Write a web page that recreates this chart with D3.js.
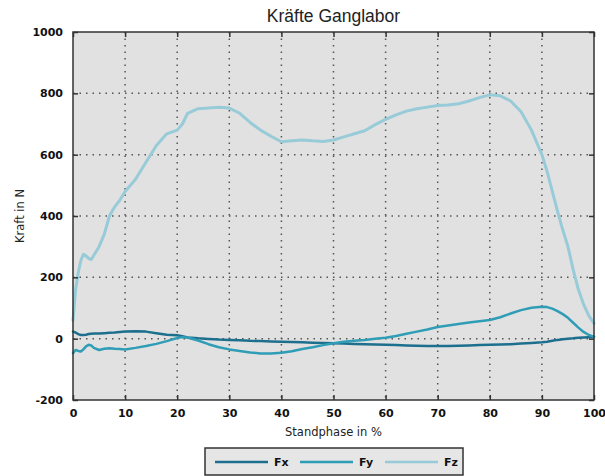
<!DOCTYPE html>
<html>
<head>
<meta charset="utf-8">
<script src="https://cdn.jsdelivr.net/npm/d3@7"></script>
<style>
  body { margin: 0; background: #fff; }
  svg { display: block; }
</style>
</head>
<body>
<svg id="chart" width="605" height="476"></svg>
<script>
// Standphase in %
var phase = [0,0.5,1,1.5,2,2.5,3,3.5,4,5,6,7,8,9,10,12,14,16,18,20,21,22,24,26,28,30,32,34,36,38,40,
  42,44,46,48,50,52,54,56,58,60,62,64,66,68,70,72,74,76,78,80,82,84,86,88,90,91,92,93,94,95,96,97,98,99,100];

var fx = [23,20,15,12,12,13,15,16,17,17,18,19,20,22,23,24,23,18,13,11,8,4,1,-1,-3,-4,-5,-7,-8,-9,-10,
  -11,-12,-13,-14,-15,-16,-17,-18,-19,-20,-21,-22,-23,-24,-24,-24,-23,-22,-21,-20,-19,-18,-16,-14,-12,-10,-7,-4,-2,0,1,3,4,5,6];

var fy = [-47,-37,-40,-42,-35,-25,-20,-22,-30,-37,-33,-31,-33,-34,-35,-30,-24,-17,-8,2,5,4,-6,-18,-28,-35,-40,-45,-48,-48,-46,
  -41,-34,-28,-21,-15,-10,-7,-4,0,3,9,16,23,30,38,43,48,53,57,61,70,82,93,101,104,103,98,90,80,68,52,36,22,12,6];

var fz = [60,160,214,255,275,270,262,258,272,300,340,400,430,452,480,520,575,630,668,680,700,735,750,752,755,752,735,705,680,660,642,
  645,648,645,643,648,658,668,678,698,715,730,742,750,755,760,762,766,775,786,795,792,775,740,680,600,545,480,415,355,300,225,160,112,75,50];

var seriesNames = ["Fx", "Fy", "Fz"];
var seriesColors = ["#1d6f8e", "#2f9db6", "#98cbd8"];
var seriesWidths = [2.5, 2.5, 3];

var xTicks = [0,10,20,30,40,50,60,70,80,90,100];
var yTicks = [-200,0,200,400,600,800,1000];

var svg = d3.select("#chart");
var margin = {top: 32, right: 11, bottom: 76, left: 73};
var width = 605 - margin.left - margin.right;
var height = 476 - margin.top - margin.bottom;

var g = svg.append("g").attr("transform", "translate(" + margin.left + "," + margin.top + ")");

var x = d3.scaleLinear().domain([0, 100]).range([0, width]);
var y = d3.scaleLinear().domain([-200, 1000]).range([height, 0]);

// Hintergrund
g.append("rect")
  .attr("width", width)
  .attr("height", height)
  .attr("fill", "#e1e1e1");

// Gitter
g.selectAll(".vgrid")
  .data(xTicks.slice(1, -1))
  .enter().append("line")
  .attr("class", "vgrid")
  .attr("x1", function(d){ return x(d); })
  .attr("x2", function(d){ return x(d); })
  .attr("y1", 0)
  .attr("y2", height)
  .attr("stroke", "#555")
  .attr("stroke-width", 1.5)
  .attr("stroke-dasharray", "1.5 5");

g.selectAll(".hgrid")
  .data(yTicks.slice(1, -1))
  .enter().append("line")
  .attr("class", "hgrid")
  .attr("x1", 0)
  .attr("x2", width)
  .attr("y1", function(d){ return y(d); })
  .attr("y2", function(d){ return y(d); })
  .attr("stroke", "#555")
  .attr("stroke-width", 1.5)
  .attr("stroke-dasharray", "1.5 5");

// Linien
var line = d3.line()
  .x(function(d){ return x(d[0]); })
  .y(function(d){ return y(d[1]); });

[fx, fy, fz].forEach(function(vals, i){
  g.append("path")
    .datum(phase.map(function(p, j){ return [p, vals[j]]; }))
    .attr("fill", "none")
    .attr("stroke", seriesColors[i])
    .attr("stroke-width", seriesWidths[i])
    .attr("stroke-linejoin", "round")
    .attr("stroke-linecap", "round")
    .attr("d", line);
});

// Achsen
var plain = function(d){ return String(d); };
var tickFont = function(sel){
  sel.selectAll("text")
    .attr("font-family", "DejaVu Sans")
    .attr("font-weight", "bold")
    .attr("font-size", 11)
    .attr("fill", "#111");
  sel.select(".domain").remove();
  sel.selectAll("line").attr("stroke", "#333").attr("stroke-width", 1.5);
};

g.append("g")
  .attr("transform", "translate(0," + height + ")")
  .call(d3.axisBottom(x).tickValues(xTicks).tickFormat(plain).tickSizeInner(-5).tickSizeOuter(0).tickPadding(9))
  .call(tickFont);

g.append("g")
  .call(d3.axisTop(x).tickValues(xTicks).tickSizeInner(-5).tickSizeOuter(0).tickFormat(""))
  .call(tickFont);

g.append("g")
  .call(d3.axisLeft(y).tickValues(yTicks).tickFormat(plain).tickSizeInner(-5).tickSizeOuter(0).tickPadding(10))
  .call(tickFont);

g.append("g")
  .attr("transform", "translate(" + width + ",0)")
  .call(d3.axisRight(y).tickValues(yTicks).tickSizeInner(-5).tickSizeOuter(0).tickFormat(""))
  .call(tickFont);

// Rahmen
g.append("rect")
  .attr("width", width)
  .attr("height", height)
  .attr("fill", "none")
  .attr("stroke", "#333")
  .attr("stroke-width", 1.5);

// Titel
svg.append("text")
  .attr("x", margin.left + width / 2)
  .attr("y", 22)
  .attr("text-anchor", "middle")
  .attr("font-family", "Liberation Sans")
  .attr("font-size", 17.5)
  .attr("fill", "#222")
  .text("Kräfte Ganglabor");

svg.append("text")
  .attr("x", margin.left + width / 2)
  .attr("y", 436)
  .attr("text-anchor", "middle")
  .attr("font-family", "DejaVu Sans")
  .attr("font-size", 11.5)
  .attr("fill", "#222")
  .text("Standphase in %");

svg.append("text")
  .attr("transform", "translate(24," + (margin.top + height / 2) + ") rotate(-90)")
  .attr("text-anchor", "middle")
  .attr("font-family", "DejaVu Sans")
  .attr("font-size", 11.5)
  .attr("fill", "#222")
  .text("Kraft in N");

// Legende
var legend = svg.append("g").attr("transform", "translate(205,448)");
legend.append("rect")
  .attr("width", 258)
  .attr("height", 27)
  .attr("fill", "#e6e6e6")
  .attr("stroke", "#333")
  .attr("stroke-width", 1.5);

var item = legend.selectAll(".item")
  .data(seriesNames)
  .enter().append("g")
  .attr("class", "item")
  .attr("transform", function(d, i){ return "translate(" + (10 + i * 85) + ",14)"; });

item.append("line")
  .attr("x1", 0)
  .attr("x2", 53)
  .attr("stroke", function(d, i){ return seriesColors[i]; })
  .attr("stroke-width", 2.5);

item.append("text")
  .attr("x", 59)
  .attr("dy", "0.35em")
  .attr("font-family", "DejaVu Sans")
  .attr("font-weight", "bold")
  .attr("font-size", 11)
  .attr("fill", "#111")
  .text(function(d){ return d; });
</script>
</body>
</html>
